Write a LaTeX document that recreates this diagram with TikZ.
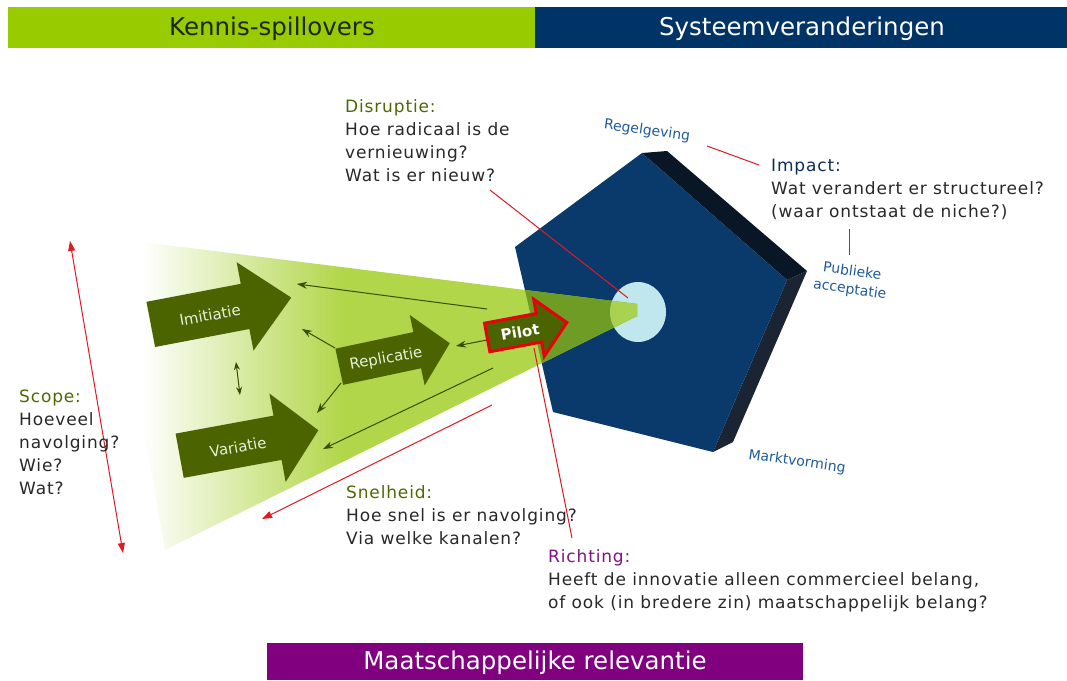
\documentclass[tikz,border=0pt]{standalone}
\usepackage{fontspec}
\setmainfont{DejaVu Sans}
\newfontfamily\bodyfont[LetterSpace=5]{DejaVu Sans}
\usetikzlibrary{arrows.meta}
\definecolor{hdrgreen}{RGB}{153,204,0}
\definecolor{hdrnavy}{RGB}{0,51,102}
\definecolor{hdrpurple}{RGB}{128,0,128}
\definecolor{hdrtext}{RGB}{30,38,8}
\definecolor{conegreen}{RGB}{178,214,74}
\definecolor{darkcone}{RGB}{110,156,36}
\definecolor{circcone}{RGB}{168,210,80}
\definecolor{arrowgreen}{RGB}{76,100,0}
\definecolor{thinarrow}{RGB}{55,78,0}
\definecolor{pentfront}{RGB}{10,58,107}
\definecolor{pentsideA}{RGB}{8,22,38}
\definecolor{pentsideB}{RGB}{26,36,50}
\definecolor{circblue}{RGB}{192,230,238}
\definecolor{olivetext}{RGB}{78,104,0}
\definecolor{impactnavy}{RGB}{12,45,85}
\definecolor{richpurple}{RGB}{128,20,128}
\definecolor{bodygray}{RGB}{40,40,40}
\definecolor{lblblue}{RGB}{30,90,155}
\definecolor{linered}{RGB}{225,25,35}
\definecolor{pilotred}{RGB}{232,0,10}
\definecolor{arrtextcol}{RGB}{232,238,220}
\pgfdeclarehorizontalshading{conegrad}{100bp}{color(0bp)=(white); color(28bp)=(white); color(47bp)=(conegreen); color(100bp)=(conegreen)}
\newcommand{\arrowshape}[4]{%
  (-#1/2,-#3) -- (#2,-#3) -- (#2,-#4) -- (#1/2,0) -- (#2,#4) -- (#2,#3) -- (-#1/2,#3) -- cycle}
\tikzset{
  hdrlabel/.style={font=\fontsize{24.5}{28}\selectfont, inner sep=0pt},
  txtblock/.style={font=\bodyfont\fontsize{17}{23}\selectfont, text=bodygray, align=left, anchor=north west, inner sep=0pt},
  pentlabel/.style={font=\fontsize{14}{18}\selectfont, text=lblblue, align=center, rotate=-8, inner sep=0pt},
  arrtext/.style={font=\fontsize{15}{18}\selectfont, text=arrtextcol, inner sep=0pt},
  redline/.style={draw=linered, line width=1pt},
  thinarr/.style={draw=thinarrow, line width=1pt, -{Stealth[length=10pt,width=7pt]}},
  bigarrowfill/.style={fill=arrowgreen}
}
\begin{document}
\begin{tikzpicture}[x=1pt,y=-1pt]
\useasboundingbox (0,0) rectangle (1067,680);
% header bands
\fill[hdrgreen] (8,7) rectangle (535,48);
\fill[hdrnavy] (535,7) rectangle (1067,48);
\node[hdrlabel, text=hdrtext] (kennis) at (272,29) {Kennis-spillovers};
\node[hdrlabel, text=white] (systeem) at (802,29) {Systeemveranderingen};
\fill[hdrpurple] (267,643) rectangle (803,680);
\node[hdrlabel, text=white] (maatsch) at (535,663) {Maatschappelijke relevantie};
% pentagon
\coordinate (pA) at (642,153);
\coordinate (pB) at (787,280);
\coordinate (pC) at (713,452);
\coordinate (pD) at (553,412);
\coordinate (pE) at (515,247);
\coordinate (bA) at (667,151);
\coordinate (bB) at (807,271);
\coordinate (bC) at (733,442);
\fill[pentsideA] (pA) -- (bA) -- (bB) -- (pB) -- cycle;
\fill[pentsideB] (pB) -- (bB) -- (bC) -- (pC) -- cycle;
\fill[pentfront] (pA) -- (pB) -- (pC) -- (pD) -- (pE) -- cycle;
% niche circle
\fill[circblue] (638,312) ellipse [x radius=28pt, y radius=30pt];
\coordinate (circ) at (628,298);
% cone
\coordinate (cTL) at (110,238);
\coordinate (cTR) at (637,304);
\coordinate (cBR) at (637,316);
\coordinate (cBL) at (165,550);
\shade[shading=conegrad] (cTL) -- (cTR) -- (cBR) -- (cBL) -- cycle;
\begin{scope}
  \clip (pA) -- (pB) -- (pC) -- (pD) -- (pE) -- cycle;
  \fill[darkcone] (cTL) -- (cTR) -- (cBR) -- (cBL) -- cycle;
\end{scope}
\begin{scope}
  \clip (638,312) ellipse [x radius=28pt, y radius=30pt];
  \fill[circcone] (cTL) -- (cTR) -- (cBR) -- (cBL) -- cycle;
\end{scope}
% red connector lines
\coordinate (disrEnd) at (490,190);
\draw[redline] (disrEnd) -- (circ);
\coordinate (regA) at (707,146);
\coordinate (regB) at (759,165);
\draw[redline] (regA) -- (regB);
\coordinate (impA) at (849,229);
\coordinate (impB) at (849,255);
\draw[redline] (impA) -- (impB);
\coordinate (richA) at (534,348);
\coordinate (richB) at (572,538);
\draw[redline] (richA) -- (richB);
\coordinate (scA) at (70,241);
\coordinate (scB) at (123,553);
\draw[redline, {Triangle[length=10pt,width=7pt]}-{Triangle[length=10pt,width=7pt]}] (scA) -- (scB);
\coordinate (snA) at (492,405);
\coordinate (snB) at (262,519);
\draw[redline, -{Triangle[length=10pt,width=7pt]}] (snA) -- (snB);
% big green arrows
\begin{scope}[shift={(221,311)}, rotate=10.8]
  \fill[bigarrowfill] \arrowshape{143}{24.5}{23}{45};
\end{scope}
\begin{scope}[shift={(249,443)}, rotate=10.4]
  \fill[bigarrowfill] \arrowshape{141}{29}{22.5}{45};
\end{scope}
\begin{scope}[shift={(394.5,355)}, rotate=12]
  \fill[bigarrowfill] \arrowshape{113}{23.2}{18.5}{36};
\end{scope}
\node[arrtext, rotate=10] (imit) at (210,315) {Imitiatie};
\node[arrtext, rotate=10] (vari) at (238,447) {Variatie};
\node[arrtext, rotate=10] (repl) at (386,359) {Replicatie};
% thin dark arrows
\coordinate (t1a) at (487,309);
\coordinate (t1b) at (297,284);
\draw[thinarr] (t1a) -- (t1b);
\coordinate (t2a) at (335,348);
\coordinate (t2b) at (302,329);
\draw[thinarr] (t2a) -- (t2b);
\coordinate (t3a) at (341,383);
\coordinate (t3b) at (317,413);
\draw[thinarr] (t3a) -- (t3b);
\coordinate (t4a) at (236,362);
\coordinate (t4b) at (240,395);
\draw[draw=thinarrow, line width=1pt, {Stealth[length=8pt,width=6pt]}-{Stealth[length=8pt,width=6pt]}] (t4a) -- (t4b);
\coordinate (t5a) at (487,340);
\coordinate (t5b) at (456,346);
\draw[thinarr] (t5a) -- (t5b);
\coordinate (t6a) at (493,368);
\coordinate (t6b) at (323,449);
\draw[thinarr] (t6a) -- (t6b);
% pilot arrow
\begin{scope}[shift={(527,330)}, rotate=10.6]
  \filldraw[fill=arrowgreen, draw=pilotred, line width=3pt, line join=miter] \arrowshape{81}{12.2}{14.5}{29};
\end{scope}
\node[font=\bfseries\fontsize{15}{18}\selectfont, text=white, rotate=10, inner sep=0pt] (pilot) at (520,332) {Pilot};
% pentagon labels
\node[pentlabel] (regel) at (647,131) {Regelgeving};
\node[pentlabel] (publ) at (851,281) {Publieke\\acceptatie};
\node[pentlabel] (markt) at (797,462) {Marktvorming};
% text blocks
\node[txtblock] (disr) at (345,99) {\textcolor{olivetext}{Disruptie:}\\Hoe radicaal is de\\vernieuwing?\\Wat is er nieuw?};
\node[txtblock] (impact) at (771,159) {\textcolor{impactnavy}{Impact:}\\Wat verandert er structureel?\\(waar ontstaat de niche?)};
\node[txtblock] (scope) at (19,390) {\textcolor{olivetext}{Scope:}\\Hoeveel\\navolging?\\Wie?\\Wat?};
\node[txtblock] (snel) at (346,485) {\textcolor{olivetext}{Snelheid:}\\Hoe snel is er navolging?\\Via welke kanalen?};
\node[txtblock] (richt) at (548,549) {\textcolor{richpurple}{Richting:}\\Heeft de innovatie alleen commercieel belang,\\of ook (in bredere zin) maatschappelijk belang?};
\end{tikzpicture}
\end{document}
